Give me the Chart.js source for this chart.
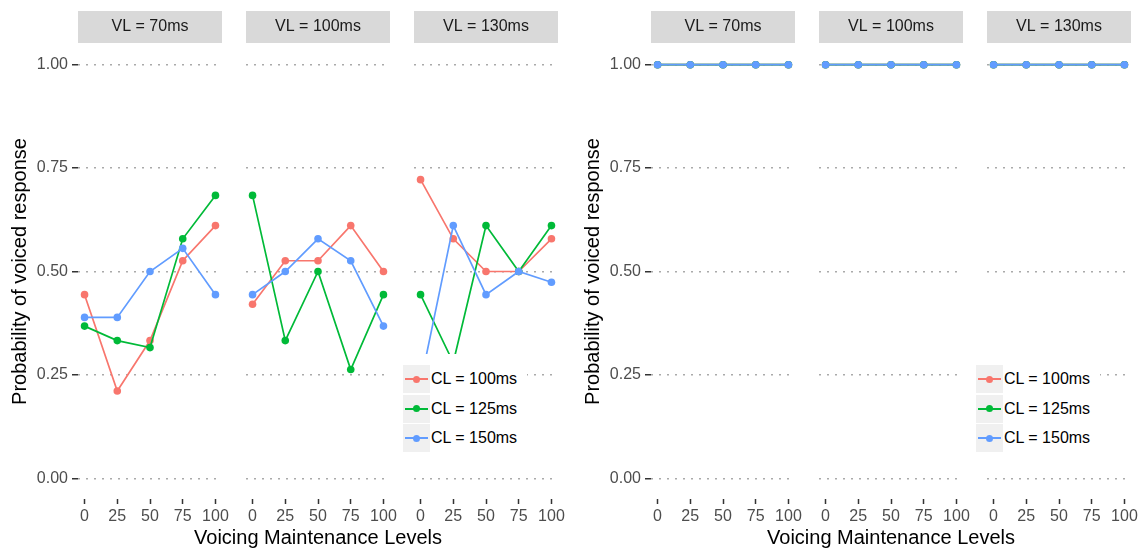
<!DOCTYPE html>
<html>
<head>
<meta charset="utf-8">
<title>Probability of voiced response</title>
<script src="https://cdn.jsdelivr.net/npm/chart.js@4"></script>
<style>
  html, body { margin: 0; padding: 0; background: #fff; }
  #wrap { position: relative; width: 1143px; height: 550px; overflow: hidden;
          font-family: 'Liberation Sans', Arial, sans-serif; }
  #wrap canvas { position: absolute; }
  .xtitle { position: absolute; width: 400px; margin-left: -200px; text-align: center;
            font-size: 20px; line-height: 24px; color: #000; white-space: nowrap; }
  .legend { position: absolute; background: #fff; padding: 11px 10px 11px 10px; }
  .legend-row { display: flex; align-items: center; height: 28px; margin-bottom: 1.5px; }
  .key { position: relative; width: 27px; height: 28px; background: #f0f0f0; flex: none; }
  .key .ln { position: absolute; left: 2px; right: 2px; top: 13px; height: 2px; }
  .key .dot { position: absolute; left: 10px; top: 10.5px; width: 7px; height: 7px; border-radius: 50%; }
  .legend-row span { font-size: 16px; color: #000; margin-left: 1px; white-space: nowrap; }
</style>
</head>
<body>
<div id="wrap"></div>
<script>
/* ── Data ───────────────────────────────────────────────────────── */

const vmLevels = [0, 25, 50, 75, 100];
const yTicks   = [0, 0.25, 0.5, 0.75, 1];
const vlLabels = ['VL = 70ms', 'VL = 100ms', 'VL = 130ms'];
const clLabels = ['CL = 100ms', 'CL = 125ms', 'CL = 150ms'];

// one row per VL facet (70, 100, 130), one value per voicing level
const leftCl100 = [
  [0.444, 0.211, 0.333, 0.526, 0.611],
  [0.421, 0.526, 0.526, 0.611, 0.500],
  [0.722, 0.579, 0.500, 0.500, 0.579],
];
const leftCl125 = [
  [0.368, 0.333, 0.316, 0.579, 0.684],
  [0.684, 0.333, 0.500, 0.263, 0.444],
  [0.444, 0.280, 0.611, 0.500, 0.611],
];
const leftCl150 = [
  [0.389, 0.389, 0.500, 0.556, 0.444],
  [0.444, 0.500, 0.579, 0.526, 0.368],
  [0.230, 0.611, 0.444, 0.500, 0.474],
];

const rightCl100 = [
  [1, 1, 1, 1, 1],
  [1, 1, 1, 1, 1],
  [1, 1, 1, 1, 1],
];
const rightCl125 = [
  [1, 1, 1, 1, 1],
  [1, 1, 1, 1, 1],
  [1, 1, 1, 1, 1],
];
const rightCl150 = [
  [1, 1, 1, 1, 1],
  [1, 1, 1, 1, 1],
  [1, 1, 1, 1, 1],
];

/* ── Styling / layout ───────────────────────────────────────────── */

const CL_COLORS = ['#F8766D', '#00BA38', '#619CFF'];
const FONT      = "'Liberation Sans', Arial, sans-serif";

const PANEL_W = 144, PANEL_H = 455, STRIP_H = 33, XAXIS_H = 50;
const TOP     = 11;     // top of the strip
const AXIS_W  = 78;     // y axis block on the first facet
const PAD_L   = 24, PAD_R = 16;

const GROUPS = [
  { lefts: [78, 246, 414],  series: [leftCl100, leftCl125, leftCl150],   legend: { x: 393, y: 354 } },
  { lefts: [651, 819, 987], series: [rightCl100, rightCl125, rightCl150], legend: { x: 966, y: 354 } },
];

// grey strip behind the facet title
const stripPlugin = {
  id: 'strip',
  beforeDraw(chart) {
    const t = chart.titleBlock;
    if (!t) return;
    const { ctx, chartArea } = chart;
    ctx.save();
    ctx.fillStyle = '#d9d9d9';
    ctx.fillRect(chartArea.left, t.top, chartArea.right - chartArea.left, STRIP_H - 1);
    ctx.restore();
  },
};

const wrap = document.getElementById('wrap');

function facetChart(group, f) {
  const first  = f === 0;
  const axisW  = first ? AXIS_W : 0;
  const padL   = first ? 0 : PAD_L;
  const canvas = document.createElement('canvas');
  canvas.width  = padL + axisW + PANEL_W + PAD_R;
  canvas.height = STRIP_H + PANEL_H + XAXIS_H;
  canvas.style.left = (group.lefts[f] - axisW - padL) + 'px';
  canvas.style.top  = TOP + 'px';
  wrap.appendChild(canvas);

  const datasets = clLabels.map((label, i) => ({
    label,
    data: vmLevels.map((x, k) => ({ x, y: group.series[i][f][k] })),
    borderColor: CL_COLORS[i],
    backgroundColor: CL_COLORS[i],
    pointBackgroundColor: CL_COLORS[i],
    pointBorderWidth: 0,
    pointRadius: 3.8,
    borderWidth: 1.7,
    tension: 0,
    order: clLabels.length - i,   // last series on top
  }));

  return new Chart(canvas, {
    type: 'line',
    data: { datasets },
    plugins: [stripPlugin],
    options: {
      responsive: false,
      animation: false,
      events: [],
      layout: { padding: { left: padL, right: PAD_R, top: 0, bottom: 0 } },
      plugins: {
        legend: { display: false },
        tooltip: { enabled: false },
        title: {
          display: true,
          text: vlLabels[f],
          fullSize: false,
          color: '#1a1a1a',
          font: { family: FONT, size: 16, weight: 'normal' },
          padding: { top: 6.4, bottom: 7.4 },
        },
      },
      scales: {
        x: {
          type: 'linear',
          min: -5, max: 105,
          afterBuildTicks: s => { s.ticks = vmLevels.map(v => ({ value: v })); },
          afterFit: s => { s.height = XAXIS_H; s.paddingLeft = 0; s.paddingRight = 0; },
          border: { display: false },
          grid: { drawOnChartArea: false, drawTicks: true, tickLength: 5, tickColor: '#333', tickWidth: 1.5 },
          ticks: { color: '#4d4d4d', font: { family: FONT, size: 16 }, padding: 3, maxRotation: 0, autoSkip: false },
        },
        y: {
          type: 'linear',
          min: -0.05, max: 1.05,
          afterBuildTicks: s => { s.ticks = yTicks.map(v => ({ value: v })); },
          afterFit: s => { s.width = axisW; s.paddingTop = 0; s.paddingBottom = 0; },
          border: { display: false, dash: [2, 6] },
          grid: { color: '#aaaaaa', lineWidth: 1.5, drawTicks: first, tickLength: 6, tickColor: '#333', tickWidth: 1.5 },
          ticks: {
            display: first,
            padding: 4,
            color: '#4d4d4d',
            font: { family: FONT, size: 16 },
            callback: v => Number(v).toFixed(2),
          },
          title: {
            display: first,
            text: 'Probability of voiced response',
            color: '#000',
            font: { family: FONT, size: 20 },
            padding: { top: 8, bottom: 0 },
          },
        },
      },
    },
  });
}

// shared x title, centred under the three facets
function xTitle(group) {
  const el = document.createElement('div');
  el.className = 'xtitle';
  el.textContent = 'Voicing Maintenance Levels';
  el.style.left = (group.lefts[1] + PANEL_W / 2) + 'px';
  el.style.top  = '525px';
  wrap.appendChild(el);
}

function legendBox(pos) {
  const box = document.createElement('div');
  box.className = 'legend';
  box.style.left = pos.x + 'px';
  box.style.top  = pos.y + 'px';
  box.innerHTML = clLabels.map((label, i) => `
    <div class="legend-row">
      <div class="key">
        <div class="ln"  style="background:${CL_COLORS[i]}"></div>
        <div class="dot" style="background:${CL_COLORS[i]}"></div>
      </div>
      <span>${label}</span>
    </div>`).join('');
  wrap.appendChild(box);
}

GROUPS.forEach(group => {
  vlLabels.forEach((_, f) => facetChart(group, f));
  xTitle(group);
  legendBox(group.legend);
});
</script>
</body>
</html>
